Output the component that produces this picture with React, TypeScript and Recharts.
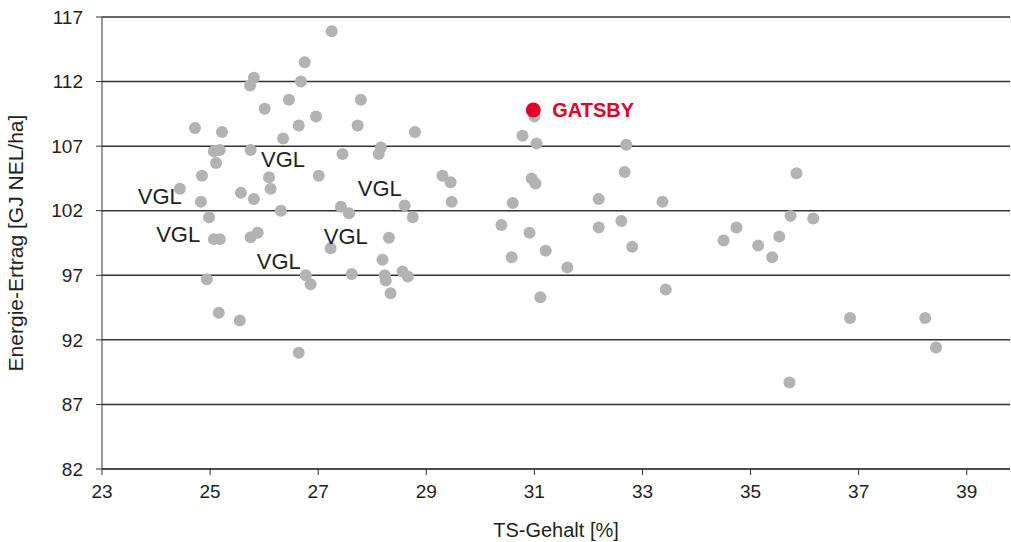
import { ScatterChart, Scatter, XAxis, YAxis, CartesianGrid } from 'recharts';

// TS-Gehalt [%] der Vergleichssorten
const sortenTS = [
    27.25, 26.75, 25.81, 25.74, 26.68, 26.01, 26.46, 27.79, 26.96, 26.64,
    27.73, 26.35, 24.72, 25.22, 25.07, 25.18, 25.11, 25.75, 27.45, 28.16,
    28.12, 28.79, 24.85, 24.44, 26.09, 27.01, 26.12, 25.57, 24.83, 25.81,
    26.31, 24.98, 27.42, 27.57, 28.6, 28.75, 25.07, 25.18, 25.75, 25.88,
    27.23, 28.31, 28.19, 24.94, 26.77, 26.86, 27.62, 28.23, 28.25, 28.56,
    28.66, 28.34, 25.16, 25.55, 26.64, 29.3, 29.45, 29.47, 30.78, 31.04,
    31.0, 30.95, 31.02, 30.6, 32.7, 32.67, 32.19, 33.37, 30.39, 30.91,
    32.19, 32.61, 31.21, 30.58, 32.81, 31.61, 31.11, 33.43, 35.85, 35.74,
    36.16, 34.74, 34.5, 35.53, 35.14, 35.4, 36.84, 38.23, 38.43, 35.72,
];

// Energie-Ertrag [GJ NEL/ha]
const sortenErtrag = [
    115.9, 113.5, 112.3, 111.7, 112.0, 109.9, 110.6, 110.6, 109.3, 108.6,
    108.6, 107.6, 108.4, 108.1, 106.6, 106.7, 105.7, 106.7, 106.4, 106.9,
    106.4, 108.1, 104.7, 103.7, 104.6, 104.7, 103.7, 103.4, 102.7, 102.9,
    102.0, 101.5, 102.3, 101.8, 102.4, 101.5, 99.8, 99.8, 99.95, 100.3,
    99.1, 99.9, 98.2, 96.7, 97.0, 96.3, 97.1, 97.0, 96.6, 97.3,
    96.9, 95.6, 94.1, 93.5, 91.0, 104.7, 104.2, 102.7, 107.8, 107.2,
    109.3, 104.5, 104.1, 102.6, 107.1, 105.0, 102.9, 102.7, 100.9, 100.3,
    100.7, 101.2, 98.9, 98.4, 99.2, 97.6, 95.3, 95.9, 104.9, 101.6,
    101.4, 100.7, 99.7, 100.0, 99.3, 98.4, 93.7, 93.7, 91.4, 88.7,
];

// Beschriftungen "VGL"
const vglTS = [26.35, 28.14, 24.07, 24.41, 27.51, 26.27];
const vglErtrag = [106.0, 103.76, 103.14, 100.2, 100.04, 98.1];

const gatsby = [{ ts: 30.98, ertrag: 109.8, name: 'GATSBY' }];

const xTicks = [23, 25, 27, 29, 31, 33, 35, 37, 39];
const yTicks = [82, 87, 92, 97, 102, 107, 112, 117];

const sorten = sortenTS.map((ts, i) => ({ ts, ertrag: sortenErtrag[i] }));
const vgl = vglTS.map((ts, i) => ({ ts, ertrag: vglErtrag[i] }));

const FONT = 'Liberation Sans, Arial, sans-serif';
const TEXT = '#231f20';

const GreyDot = (props: any) => {
    const { cx, cy } = props;
    return <circle cx={cx} cy={cy} r={6} fill="#b3b3b3" />;
};

const RedDot = (props: any) => {
    const { cx, cy, payload } = props;
    return (
        <g>
            <circle cx={cx} cy={cy} r={7.5} fill="#e2002b" />
            <text x={cx + 19} y={cy} dy="0.36em" fill="#e2002b" fontSize={20} fontWeight="bold" fontFamily={FONT}>
                {payload.name}
            </text>
        </g>
    );
};

const VglText = (props: any) => {
    const { cx, cy } = props;
    return (
        <text x={cx} y={cy} dy="0.36em" textAnchor="middle" fill={TEXT} fontSize={22} fontFamily={FONT}>
            VGL
        </text>
    );
};

const App = () => {
    return (
        <div style={{ position: 'absolute', left: 0, top: 0, background: '#fff' }}>
            <ScatterChart width={1011} height={542} margin={{ top: 17, right: 1, left: 0, bottom: 0 }}>
                <CartesianGrid vertical={false} stroke="#333" strokeWidth={1.5} />
                <XAxis
                    type="number"
                    dataKey="ts"
                    domain={[23, 39.8]}
                    ticks={xTicks}
                    allowDataOverflow
                    height={73}
                    stroke="#333"
                    tickSize={6}
                    tickMargin={10}
                    tick={{ fill: TEXT, fontSize: 19, fontFamily: FONT }}
                    label={{ value: 'TS-Gehalt [%]', position: 'insideBottom', offset: 5, fill: TEXT, fontSize: 20, fontFamily: FONT }}
                />
                <YAxis
                    type="number"
                    dataKey="ertrag"
                    domain={[82, 117]}
                    ticks={yTicks}
                    allowDataOverflow
                    width={102}
                    stroke="#333"
                    tickSize={6}
                    tickMargin={13}
                    tick={{ fill: TEXT, fontSize: 19, fontFamily: FONT }}
                    label={{
                        value: 'Energie-Ertrag [GJ NEL/ha]',
                        angle: -90,
                        position: 'insideLeft',
                        offset: 16,
                        fill: TEXT,
                        fontSize: 21,
                        fontFamily: FONT,
                        style: { textAnchor: 'middle' },
                    }}
                />
                <Scatter data={sorten} shape={GreyDot} isAnimationActive={false} />
                <Scatter data={vgl} shape={VglText} isAnimationActive={false} />
                <Scatter data={gatsby} shape={RedDot} isAnimationActive={false} />
            </ScatterChart>
        </div>
    );
};

export default App;
